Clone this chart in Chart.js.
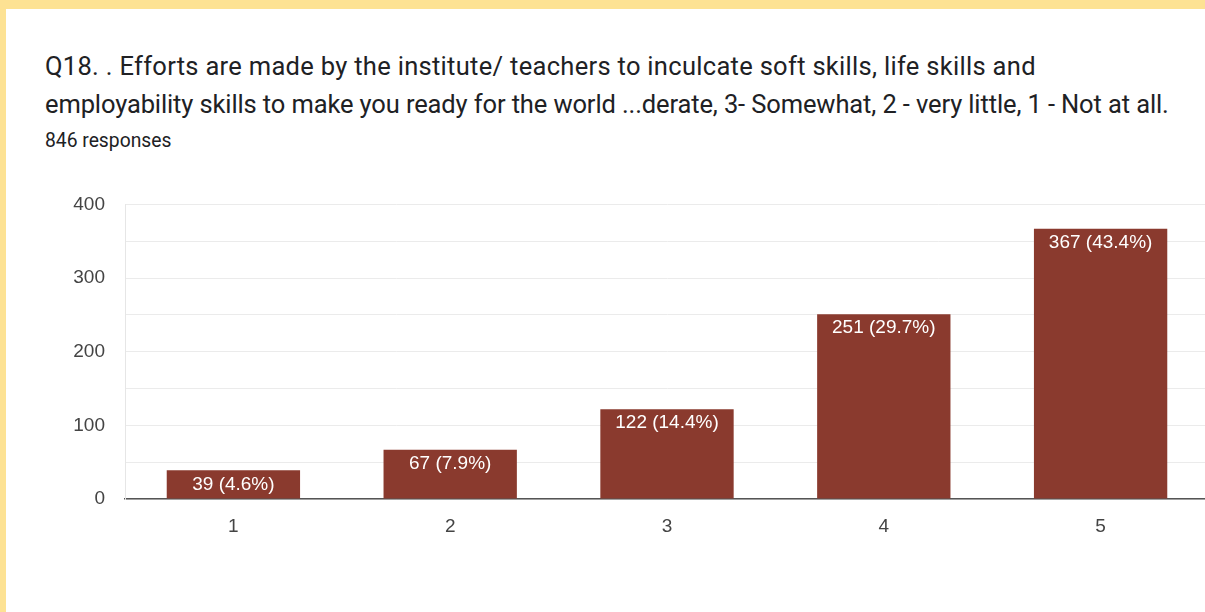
<!DOCTYPE html>
<html lang="en">
<head>
<meta charset="UTF-8">
<title>Q18 responses</title>
<style>
html, body { margin: 0; padding: 0; width: 1205px; height: 612px; overflow: hidden; background: #fde293; font-family: Roboto, Arial, sans-serif; }
#card { position: absolute; left: 6px; top: 9px; width: 1210px; height: 620px; background: #fff; }
#title { position: absolute; left: 45px; top: 47px; font-size: 25.5px; line-height: 38px; color: #202124; white-space: nowrap; }
#title .l1 { letter-spacing: 0.3px; }
#title .l2 { letter-spacing: -0.12px; }
#count { position: absolute; left: 45px; top: 129px; font-size: 19.3px; color: #202124; }
#chartBox { position: absolute; left: 0; top: 173px; width: 1209px; height: 397px; }
</style>
</head>
<body>
<div id="card"></div>
<div id="title"><span class="l1">Q18. . Efforts are made by the institute/ teachers to inculcate soft skills, life skills and</span><br><span class="l2">employability skills to make you ready for the world ...derate, 3- Somewhat, 2 - very little, 1 - Not at all.</span></div>
<div id="count">846 responses</div>
<div id="chartBox"><canvas id="chart"></canvas></div>

<script src="https://cdn.jsdelivr.net/npm/chart.js"></script>
<script>
const categories = ['1', '2', '3', '4', '5'];
const counts = [39, 67, 122, 251, 367];
const percents = ['4.6', '7.9', '14.4', '29.7', '43.4'];
const yTicks = [0, 100, 200, 300, 400];

const chartFont = 'Arial, "Liberation Sans", sans-serif';

// white value labels near the top of each bar
const barLabels = {
    id: 'barLabels',
    afterDatasetsDraw(chart) {
        const ctx = chart.ctx;
        const meta = chart.getDatasetMeta(0);
        ctx.save();
        ctx.font = '19px ' + chartFont;
        ctx.fillStyle = '#ffffff';
        ctx.textAlign = 'center';
        ctx.textBaseline = 'middle';
        meta.data.forEach((bar, i) => {
            ctx.fillText(counts[i] + ' (' + percents[i] + '%)', bar.x, bar.y + 14);
        });
        ctx.restore();
    }
};

new Chart(document.getElementById('chart'), {
    type: 'bar',
    data: {
        labels: categories,
        datasets: [{
            data: counts,
            backgroundColor: '#8a3a2e',
            barPercentage: 0.615,
            categoryPercentage: 1
        }]
    },
    options: {
        responsive: true,
        maintainAspectRatio: false,
        animation: false,
        layout: { padding: { top: 14, left: 0, right: 0, bottom: 0 } },
        plugins: { legend: { display: false }, tooltip: { enabled: false } },
        scales: {
            x: {
                grid: { display: false },
                border: { display: true, color: '#555555', width: 1.5 },
                ticks: { color: '#444444', font: { size: 19, family: chartFont }, padding: 8 },
                afterFit(scale) { scale.height = 71; }
            },
            y: {
                min: 0,
                max: 400,
                grid: { color: '#ebebeb', drawTicks: false },
                border: { display: true, color: '#e6e6e6' },
                ticks: {
                    stepSize: 50,
                    color: '#444444',
                    font: { size: 19, family: chartFont },
                    padding: 20,
                    callback: v => yTicks.includes(v) ? v : ''
                },
                afterFit(scale) { scale.width = 125; }
            }
        }
    },
    plugins: [barLabels]
});
</script>
</body>
</html>
